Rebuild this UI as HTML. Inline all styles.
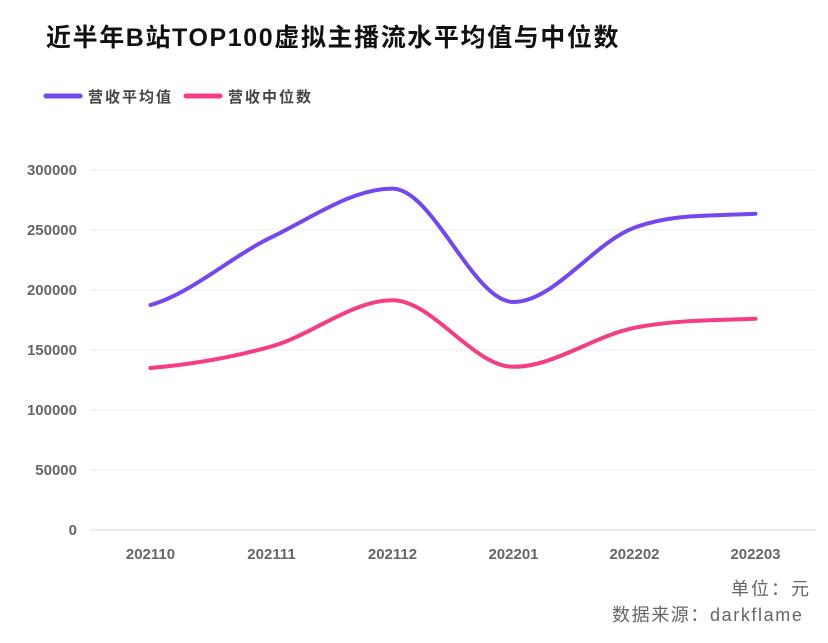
<!DOCTYPE html>
<html><head><meta charset="utf-8">
<style>
body{margin:0;background:#fff;width:828px;height:638px;overflow:hidden;font-family:"Liberation Sans","Noto Sans CJK SC",sans-serif;}
</style></head>
<body>
<svg id="chart" width="828" height="638" xmlns="http://www.w3.org/2000/svg" style="font-family:'Liberation Sans','Noto Sans CJK SC',sans-serif">
<text x="46" y="46" font-size="25" font-weight="bold" fill="#111" letter-spacing="1.6">近半年B站TOP100虚拟主播流水平均值与中位数</text>
<g>
<line x1="46" y1="96" x2="80" y2="96" stroke="#7447f0" stroke-width="5" stroke-linecap="round"/>
<text x="88" y="102" font-size="15" font-weight="bold" fill="#444" letter-spacing="2">营收平均值</text></g>
<g>
<line x1="186" y1="96" x2="220" y2="96" stroke="#f53c84" stroke-width="5" stroke-linecap="round"/>
<text x="228" y="102" font-size="15" font-weight="bold" fill="#444" letter-spacing="2">营收中位数</text></g>
<g id="grid"></g><g id="yl"></g><g id="xl"></g><g id="lines"></g>
<text x="731" y="595" font-size="18" fill="#666" letter-spacing="2">单位：元</text>
<text x="612" y="621" font-size="18" fill="#666" letter-spacing="1.6">数据来源：darkflame</text>
</svg>
<script>
const categories=["202110","202111","202112","202201","202202","202203"];
const meanValues=[187500,244000,284500,190000,252000,263500];
const medianValues=[135000,153000,191500,136000,168500,176000];
const yTicks=[0,50000,100000,150000,200000,250000,300000];
const NS="http://www.w3.org/2000/svg";
const x0=90,x1=816,yb=530,yt=170,ymax=300000;
const step=(x1-x0)/categories.length;
const X=i=>x0+step*(i+0.5);
const Y=v=>yb-(v/ymax)*(yb-yt);
function mk(t,a,p){const e=document.createElementNS(NS,t);for(const k in a)e.setAttribute(k,a[k]);p.appendChild(e);return e;}
const grid=document.getElementById('grid'),yl=document.getElementById('yl'),xl=document.getElementById('xl'),lines=document.getElementById('lines');
yTicks.forEach(v=>{
 const l=mk('line',{x1:x0,x2:x1,y1:Y(v),y2:Y(v),stroke:v===0?'#ddd':'#eee','stroke-width':1},grid);
 
 
 const t=mk('text',{x:77,y:Y(v)+5,'text-anchor':'end','font-size':15,'font-weight':'bold',fill:'#666'},yl);
 t.textContent=v;
 
 
});
categories.forEach((c,i)=>{
 const t=mk('text',{x:X(i),y:559,'text-anchor':'middle','font-size':15,'font-weight':'bold',fill:'#666'},xl);
 t.textContent=c;
 
 
});
function path(vals){
 const p=vals.map((v,i)=>[X(i),Y(v)]);
 const n=p.length,m=[];
 for(let i=0;i<n;i++){
  if(i===0||i===n-1){m.push(0);continue;}
  const d0=(p[i][1]-p[i-1][1]),d1=(p[i+1][1]-p[i][1]);
  m.push(d0*d1<=0?0:(d0+d1)/2);
 }
 let d=`M${p[0][0]},${p[0][1]}`;
 for(let i=0;i<n-1;i++){
  const dx=(p[i+1][0]-p[i][0])/3;
  const s0=i===0?(p[1][1]-p[0][1])/2:m[i];
  const s1=i+1===n-1?(p[n-1][1]-p[n-2][1])/2:m[i+1];
  d+=` C${p[i][0]+dx},${p[i][1]+s0/3} ${p[i+1][0]-dx},${p[i+1][1]-s1/3} ${p[i+1][0]},${p[i+1][1]}`;
 }
 return d;
}
const a=mk('path',{d:path(meanValues),fill:'none',stroke:'#7447f0','stroke-width':4,'stroke-linecap':'round'},lines);


const b=mk('path',{d:path(medianValues),fill:'none',stroke:'#f53c84','stroke-width':4,'stroke-linecap':'round'},lines);


</script>
</body></html>
